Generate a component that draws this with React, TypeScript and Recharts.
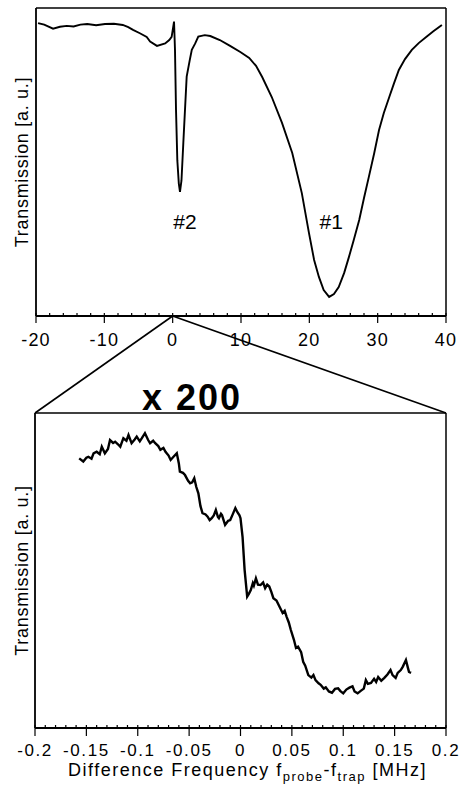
import React from 'react';
import { LineChart, Line, XAxis, YAxis, ReferenceDot } from 'recharts';

// ---------- Data ----------
const overviewFreq = [
  -19.7, -18.8, -17.5, -16.5, -15.5, -14.5, -13.5, -12.5, -11.2, -9.9, -8.6, -7.3, -6.5, -5.8, -4.8,
  -3.8, -3.3, -2.3, -1.1, -0.5, -0.15, 0.2, 0.34, 0.49, 0.68, 0.9, 1.07, 1.29, 1.56, 2.05, 2.5, 2.8,
  3.3, 3.75, 4.7, 5.5, 6.9, 8.4, 9.9, 11.2, 12.2, 13.1, 14.5, 16.0, 17.5, 18.9, 19.95, 20.7, 21.4,
  22.1, 22.9, 23.6, 24.3, 25.1, 25.8, 26.5, 27.3, 28.0, 28.7, 29.5, 30.2, 30.9, 31.7, 32.4, 33.1,
  34.0, 35.0, 36.0, 37.1, 38.2, 39.4,
];
const overviewTrans = [
  95.1, 94.6, 93.3, 93.9, 94.2, 94.0, 94.6, 94.8, 94.4, 94.8, 94.9, 94.5, 93.8, 92.9, 91.8,
  90.6, 89.1, 87.7, 88.5, 89.6, 90.6, 95.6, 86.4, 66.9, 50.6, 43.0, 40.3, 44.0, 56.2, 77.7, 83.1, 86.4,
  88.5, 90.7, 91.2, 90.9, 89.6, 87.7, 85.7, 83.8, 81.2, 77.6, 71.1, 62.7, 52.9, 39.9, 26.9, 18.2, 12.7,
  8.4, 6.2, 7.1, 9.4, 14.0, 19.2, 24.7, 31.2, 38.3, 45.1, 52.9, 60.4, 65.9, 71.1, 75.6, 79.9,
  83.4, 86.4, 88.6, 90.6, 92.5, 94.5,
];

const zoomFreq = [
  -0.157, -0.153, -0.15, -0.148, -0.145, -0.143, -0.14, -0.137, -0.135, -0.132, -0.129, -0.127, -0.124,
  -0.122, -0.119, -0.117, -0.114, -0.111, -0.109, -0.106, -0.103, -0.101, -0.098, -0.096, -0.093, -0.09,
  -0.088, -0.085, -0.083, -0.08, -0.078, -0.075, -0.073, -0.07, -0.068, -0.065, -0.062, -0.06, -0.059,
  -0.056, -0.054, -0.051, -0.049, -0.047, -0.045, -0.043, -0.041, -0.039, -0.037, -0.034, -0.032, -0.03,
  -0.028, -0.026, -0.024, -0.022, -0.021, -0.019, -0.018, -0.016, -0.015, -0.012, -0.01, -0.008, -0.005,
  -0.003, -0.001, 0.0, 0.002, 0.004, 0.0065, 0.008, 0.01, 0.012, 0.013, 0.015, 0.017, 0.0195, 0.022,
  0.024, 0.026, 0.028, 0.03, 0.032, 0.035, 0.038, 0.041, 0.043, 0.045, 0.047, 0.049, 0.052, 0.054,
  0.056, 0.059, 0.061, 0.063, 0.066, 0.069, 0.071, 0.073, 0.076, 0.078, 0.081, 0.083, 0.086, 0.089,
  0.092, 0.095, 0.097, 0.1, 0.103, 0.106, 0.109, 0.111, 0.114, 0.117, 0.12, 0.122, 0.124, 0.127, 0.13,
  0.132, 0.134, 0.137, 0.14, 0.143, 0.146, 0.148, 0.151, 0.153, 0.156, 0.158, 0.161, 0.163, 0.164, 0.166,
];
const zoomTrans = [
  85.6, 84.6, 85.8, 86.1, 85.5, 87.2, 87.7, 86.9, 89.3, 87.2, 88.6, 91.4, 90.5,
  90.9, 90.0, 89.3, 92.0, 91.2, 93.0, 90.4, 91.6, 92.5, 91.0, 92.0, 93.6, 91.5,
  90.4, 91.2, 90.4, 89.5, 88.3, 88.9, 87.7, 86.5, 85.1, 86.2, 87.2, 84.0, 81.4,
  81.0, 80.3, 78.5, 77.7, 78.0, 79.3, 76.5, 74.5, 70.5, 68.2, 67.8, 67.1, 66.0,
  66.6, 67.5, 69.2, 67.0, 66.6, 68.0, 67.6, 65.5, 64.5, 65.8, 66.0, 67.5, 69.8,
  68.5, 67.5, 66.6, 60.7, 50.2, 41.7, 42.5, 43.8, 46.0, 45.2, 47.5, 45.5, 45.4, 46.2,
  44.4, 45.5, 44.9, 43.2, 41.2, 40.5, 38.5, 36.5, 37.2, 35.2, 33.5, 31.1, 28.0, 25.4,
  25.8, 24.1, 21.0, 19.8, 16.8, 16.0, 16.8, 15.2, 14.2, 13.7, 12.5, 12.9, 11.6, 11.2,
  12.4, 12.6, 11.8, 11.0, 12.2, 12.8, 13.2, 11.6, 11.0, 11.8, 12.5, 15.2, 14.0, 14.3, 15.6,
  14.6, 16.2, 15.0, 15.9, 17.0, 18.4, 16.8, 15.9, 17.5, 18.4, 19.5, 21.6, 19.0, 17.8, 17.5,
];

const overviewTicks = [
  -20, -18, -16, -14, -12, -10, -8, -6, -4, -2, 0, 2, 4, 6, 8, 10, 12, 14, 16, 18, 20,
  22, 24, 26, 28, 30, 32, 34, 36, 38, 40,
];
const overviewMajorTicks = [-20, -10, 0, 10, 20, 30, 40];

const zoomTicks = [
  -0.2, -0.19, -0.18, -0.17, -0.16, -0.15, -0.14, -0.13, -0.12, -0.11, -0.1, -0.09, -0.08, -0.07,
  -0.06, -0.05, -0.04, -0.03, -0.02, -0.01, 0, 0.01, 0.02, 0.03, 0.04, 0.05, 0.06, 0.07, 0.08, 0.09,
  0.1, 0.11, 0.12, 0.13, 0.14, 0.15, 0.16, 0.17, 0.18, 0.19, 0.2,
];
const zoomMajorTicks = [-0.2, -0.15, -0.1, -0.05, 0, 0.05, 0.1, 0.15, 0.2];
const zoomMajorLabels = ['-0.2', '-0.15', '-0.1', '-0.05', '0', '0.05', '0.1', '0.15', '0.2'];

const peakLabels = ['#2', '#1'];
const peakLabelFreq = [1.8, 23.2];
const peakLabelTrans = [30.8, 30.8];

// ---------- Layout ----------
const W = 459;
const FONT = '"Liberation Sans", Arial, Helvetica, sans-serif';
const TOP = { top: 0, height: 360, left: 36, right: 12, mt: 7, mb: 4, axisH: 40 };
const BOT = { top: 400, height: 390, left: 35, right: 12, mt: 12, mb: 2, axisH: 60 };
const OV_DOMAIN: [number, number] = [-20, 40];
const ZM_DOMAIN: [number, number] = [-0.2, 0.2];

const overviewData = overviewFreq.map((f, i) => ({ f, t: overviewTrans[i] }));
const zoomData = zoomFreq.map((f, i) => ({ f, t: zoomTrans[i] }));

const makeTick = (
  majors: number[],
  labels: string[],
  labelDy: number,
  majorLen: number,
  fontSize: number,
  spacing: number,
) => (props: any) => {
  const { x, y, payload } = props;
  const v = payload.value;
  const idx = majors.findIndex((m) => Math.abs(m - v) < 1e-9);
  const major = idx >= 0;
  return (
    <g>
      <line x1={x} x2={x} y1={y - 3} y2={major ? y + majorLen : y} stroke="#000" strokeWidth={1.2} />
      {major && (
        <text
          x={x}
          y={y + labelDy}
          textAnchor="middle"
          fontSize={fontSize}
          letterSpacing={spacing}
          fontFamily={FONT}
          fill="#000"
        >
          {labels[idx]}
        </text>
      )}
    </g>
  );
};

const YLabel = (props: any) => {
  const vb = props.viewBox || { x: 0, y: 0, width: 36, height: 300 };
  const cx = (vb.x || 0) + 22;
  const cy = (vb.y || 0) + (vb.height || 0) / 2;
  return (
    <text
      x={cx}
      y={cy}
      transform={`rotate(-90 ${cx} ${cy})`}
      textAnchor="middle"
      dominantBaseline="central"
      fontSize={18}
      letterSpacing={0.7}
      fontFamily={FONT}
      fill="#000"
    >
      Transmission [a. u.]
    </text>
  );
};

const XLabel = (props: any) => {
  const vb = props.viewBox || { x: 35, y: 328, width: 411, height: 60 };
  const cx = (vb.x || 0) + (vb.width || 0) / 2 + 7;
  const by = (vb.y || 0) + 48;
  return (
    <text x={cx} y={by} textAnchor="middle" fontSize={18} letterSpacing={1.5} fontFamily={FONT} fill="#000">
      <tspan>Difference Frequency f</tspan>
      <tspan fontSize={13} dy={5}>probe</tspan>
      <tspan dy={-5}>-f</tspan>
      <tspan fontSize={13} dy={5}>trap</tspan>
      <tspan dy={-5}> [MHz]</tspan>
    </text>
  );
};

const frameAxisStyle = { stroke: '#000', strokeWidth: 1.5 };

export default function App() {
  // derived geometry for the zoom connector
  const topPlotLeft = TOP.left;
  const topPlotRight = W - TOP.right - 1;
  const topPlotBottom = TOP.top + TOP.height - TOP.mb - TOP.axisH;
  const x0 = topPlotLeft + ((0 - OV_DOMAIN[0]) / (OV_DOMAIN[1] - OV_DOMAIN[0])) * (topPlotRight - topPlotLeft);
  const botPlotLeft = BOT.left;
  const botPlotRight = W - BOT.right - 1;
  const botPlotTop = BOT.top + BOT.mt + 1;

  return (
    <div style={{ position: 'absolute', left: 0, top: 0, width: W, height: 790, background: '#fff' }}>
      <div style={{ position: 'absolute', left: 0, top: TOP.top }}>
        <LineChart
          width={W}
          height={TOP.height}
          data={overviewData}
          margin={{ top: TOP.mt, right: TOP.right, bottom: TOP.mb, left: 0 }}
        >
          <XAxis
            xAxisId="b"
            dataKey="f"
            type="number"
            domain={OV_DOMAIN}
            allowDataOverflow
            ticks={overviewTicks}
            interval={0}
            height={TOP.axisH}
            tickSize={0}
            tickMargin={0}
            tickLine={false}
            axisLine={{ stroke: '#000', strokeWidth: 1.8 }}
            tick={makeTick(overviewMajorTicks, overviewMajorTicks.map(String), 30, 7, 18, 1.2)}
          />
          <XAxis
            xAxisId="t"
            orientation="top"
            dataKey="f"
            type="number"
            domain={OV_DOMAIN}
            allowDataOverflow
            height={1}
            tick={false}
            tickLine={false}
            axisLine={frameAxisStyle}
          />
          <YAxis
            yAxisId="l"
            type="number"
            domain={[0, 100]}
            width={TOP.left}
            tick={false}
            tickLine={false}
            axisLine={{ stroke: '#000', strokeWidth: 1.8 }}
            label={<YLabel />}
          />
          <YAxis
            yAxisId="r"
            orientation="right"
            type="number"
            domain={[0, 100]}
            width={1}
            tick={false}
            tickLine={false}
            axisLine={frameAxisStyle}
          />
          <Line
            xAxisId="b"
            yAxisId="l"
            dataKey="t"
            type="linear"
            stroke="#000"
            strokeWidth={1.9}
            dot={false}
            isAnimationActive={false}
          />
          {peakLabels.map((lab, i) => (
            <ReferenceDot
              key={lab}
              xAxisId="b"
              yAxisId="l"
              x={peakLabelFreq[i]}
              y={peakLabelTrans[i]}
              r={0}
              fill="none"
              stroke="none"
              label={{ value: lab, position: 'center', fontSize: 21, fontFamily: FONT, fill: '#000' }}
            />
          ))}
        </LineChart>
      </div>

      <div style={{ position: 'absolute', left: 0, top: BOT.top }}>
        <LineChart
          width={W}
          height={BOT.height}
          data={zoomData}
          margin={{ top: BOT.mt, right: BOT.right, bottom: BOT.mb, left: 0 }}
        >
          <XAxis
            xAxisId="b"
            dataKey="f"
            type="number"
            domain={ZM_DOMAIN}
            allowDataOverflow
            ticks={zoomTicks}
            interval={0}
            height={BOT.axisH}
            tickSize={0}
            tickMargin={0}
            tickLine={false}
            axisLine={{ stroke: '#000', strokeWidth: 1.8 }}
            tick={makeTick(zoomMajorTicks, zoomMajorLabels, 27.5, 8, 17, 1.6)}
            label={<XLabel />}
          />
          <XAxis
            xAxisId="t"
            orientation="top"
            dataKey="f"
            type="number"
            domain={ZM_DOMAIN}
            allowDataOverflow
            height={1}
            tick={false}
            tickLine={false}
            axisLine={frameAxisStyle}
          />
          <YAxis
            yAxisId="l"
            type="number"
            domain={[0, 100]}
            width={BOT.left}
            tick={false}
            tickLine={false}
            axisLine={{ stroke: '#000', strokeWidth: 1.8 }}
            label={<YLabel />}
          />
          <YAxis
            yAxisId="r"
            orientation="right"
            type="number"
            domain={[0, 100]}
            width={1}
            tick={false}
            tickLine={false}
            axisLine={frameAxisStyle}
          />
          <Line
            xAxisId="b"
            yAxisId="l"
            dataKey="t"
            type="linear"
            stroke="#000"
            strokeWidth={2.4}
            dot={false}
            isAnimationActive={false}
          />
        </LineChart>
      </div>

      <svg
        width={W}
        height={790}
        style={{ position: 'absolute', left: 0, top: 0, pointerEvents: 'none' }}
      >
        <line x1={x0} y1={topPlotBottom} x2={botPlotLeft} y2={botPlotTop} stroke="#000" strokeWidth={1.6} />
        <line x1={x0} y1={topPlotBottom} x2={botPlotRight} y2={botPlotTop} stroke="#000" strokeWidth={1.6} />
        <text
          x={192}
          y={410}
          textAnchor="middle"
          fontSize={36}
          fontWeight="bold"
          letterSpacing={2}
          fontFamily={FONT}
          fill="#000"
        >
          x 200
        </text>
      </svg>
    </div>
  );
}
